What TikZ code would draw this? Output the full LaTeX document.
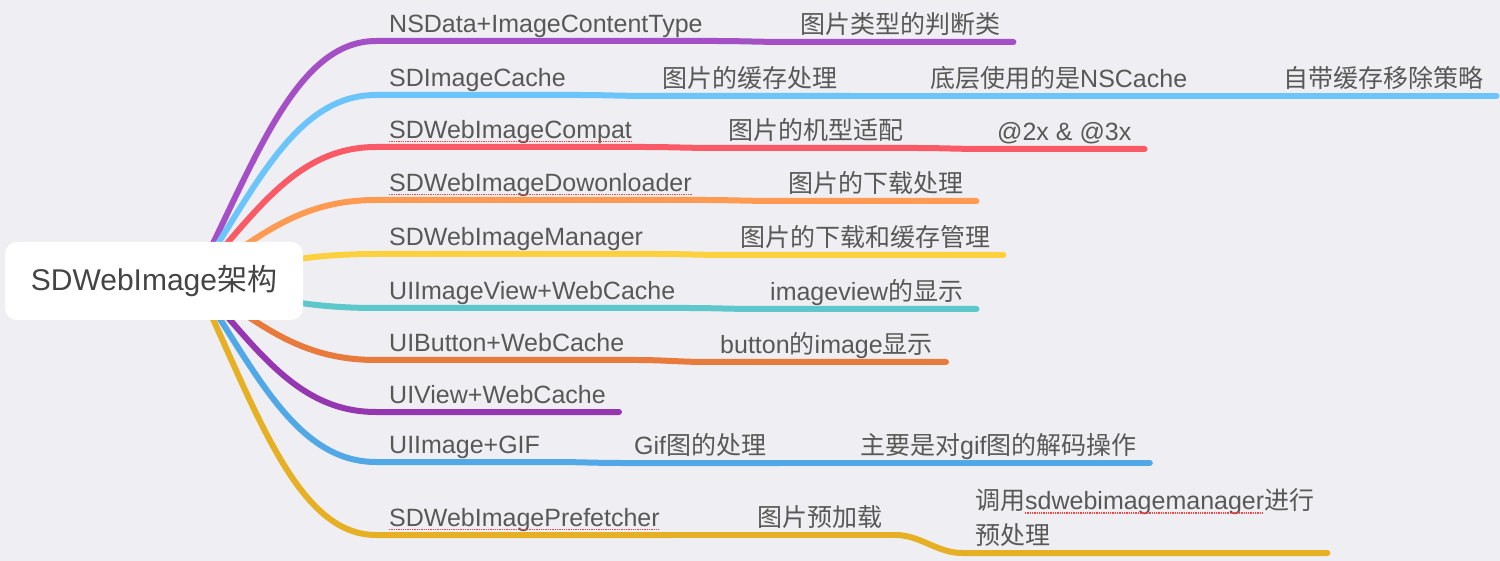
\documentclass[tikz,border=0pt]{standalone}
\usepackage{fontspec}
\setmainfont{Liberation Sans}
\newfontfamily\cjk{Noto Sans CJK SC}
\usetikzlibrary{calc}

\definecolor{bgc}{HTML}{EFEFF3}
\definecolor{txt}{HTML}{585858}
\definecolor{rootxt}{HTML}{444444}
\definecolor{pur}{HTML}{A54FC7}
\definecolor{sky}{HTML}{6CC5FA}
\definecolor{rd}{HTML}{FA5A66}
\definecolor{orn}{HTML}{FF9A52}
\definecolor{yel}{HTML}{FDD03E}
\definecolor{tea}{HTML}{5CC8CB}
\definecolor{dor}{HTML}{E87A3C}
\definecolor{vio}{HTML}{9537B0}
\definecolor{blu}{HTML}{50A8E6}
\definecolor{gld}{HTML}{E6B024}

\newcommand{\zh}[1]{{\cjk #1}}
% branch from the hub to the first node, and node to node along a row
\newcommand{\branch}[2]{\draw[branch,#1] (hub) .. controls ($(hub)!.5!(#2.south west)+(-30,0)$) and ($(#2.south west)+(-80,0)$) .. (#2.south west) -- (#2.south east);}
\newcommand{\link}[3]{\draw[branch,#1] (#2.south east) .. controls +(25,0) and +(-25,0) .. (#3.south west) -- (#3.south east);}

\tikzset{
  lbl/.style={font=\fontsize{25}{30}\selectfont, text=txt, inner xsep=13pt, inner ysep=0pt, text depth=8pt, anchor=south west},
  rootbox/.style={fill=white, rounded corners=12pt, minimum width=298pt, minimum height=78pt, font=\fontsize{30}{35}\selectfont, text=rootxt},
  branch/.style={line width=6pt, line cap=round},
  squig/.style={draw=red!75, densely dotted, line width=1.3pt},
}

\begin{document}
\begin{tikzpicture}[x=1pt,y=-1pt]
  \fill[bgc] (0,0) rectangle (1500,561);
  \useasboundingbox (0,0) rectangle (1500,561);

  \coordinate (hub) at (195,280);

  \node[lbl] (ct)  at (376,41)  {NSData+ImageContentType};
  \node[lbl] (ct1) at (787,42)  {\zh{图片类型的判断类}};

  \node[lbl] (ic)  at (376,95)  {SDImageCache};
  \node[lbl] (ic1) at (649,96)  {\zh{图片的缓存处理}};
  \node[lbl] (ic2) at (917,96)  {\zh{底层使用的是}NSCache};
  \node[lbl] (ic3) at (1270,96) {\zh{自带缓存移除策略}};

  \node[lbl] (cp)  at (376,147) {SDWebImageCompat};
  \node[lbl] (cp1) at (715,148) {\zh{图片的机型适配}};
  \node[lbl] (cp2) at (984,149) {@2x \& @3x};

  \node[lbl] (dl)  at (376,200) {SDWebImageDowonloader};
  \node[lbl] (dl1) at (775,201) {\zh{图片的下载处理}};

  \node[lbl] (mg)  at (376,254) {SDWebImageManager};
  \node[lbl] (mg1) at (727,255) {\zh{图片的下载和缓存管理}};

  \node[lbl] (iv)  at (376,308) {UIImageView+WebCache};
  \node[lbl] (iv1) at (757,309) {imageview\zh{的显示}};

  \node[lbl] (bt)  at (376,360) {UIButton+WebCache};
  \node[lbl] (bt1) at (707,362) {button\zh{的}image\zh{显示}};

  \node[lbl] (vw)  at (376,412) {UIView+WebCache};

  \node[lbl] (gf)  at (376,462) {UIImage+GIF};
  \node[lbl] (gf1) at (621,463) {Gif\zh{图的处理}};
  \node[lbl] (gf2) at (847,463) {\zh{主要是对}gif\zh{图的解码操作}};

  \node[lbl] (pf)  at (376,535) {SDWebImagePrefetcher};
  \node[lbl] (pf1) at (744,535) {\zh{图片预加载}};
  \node[lbl, font=\fontsize{25}{35}\selectfont] (pf2) at (962,553)
    {\begin{tabular}[b]{@{}l@{}}\zh{调用}sdwebimagemanager\zh{进行}\\\zh{预处理}\end{tabular}};

  \branch{pur}{ct} \link{pur}{ct}{ct1}
  \branch{sky}{ic} \link{sky}{ic}{ic1} \link{sky}{ic1}{ic2} \link{sky}{ic2}{ic3}
  \branch{rd}{cp}  \link{rd}{cp}{cp1}  \link{rd}{cp1}{cp2}
  \branch{orn}{dl} \link{orn}{dl}{dl1}
  \branch{yel}{mg} \link{yel}{mg}{mg1}
  \branch{tea}{iv} \link{tea}{iv}{iv1}
  \branch{dor}{bt} \link{dor}{bt}{bt1}
  \branch{vio}{vw}
  \branch{blu}{gf} \link{blu}{gf}{gf1} \link{blu}{gf1}{gf2}
  \branch{gld}{pf} \link{gld}{pf}{pf1} \link{gld}{pf1}{pf2}

  % spell-check marks
  \draw[squig] ($(cp.base west)+(13,3)$) -- ($(cp.base east)+(-13,3)$);
  \draw[squig] ($(dl.base west)+(13,3)$) -- ($(dl.base east)+(-13,3)$);
  \draw[squig] ($(pf.base west)+(13,3)$) -- ($(pf.base east)+(-13,3)$);
  \draw[squig] ($(pf2.south west)+(63,-40)$) -- ($(pf2.south west)+(302,-40)$);

  \node[rootbox] (root) at (154,281) {SDWebImage\zh{架构}};

\end{tikzpicture}
\end{document}
